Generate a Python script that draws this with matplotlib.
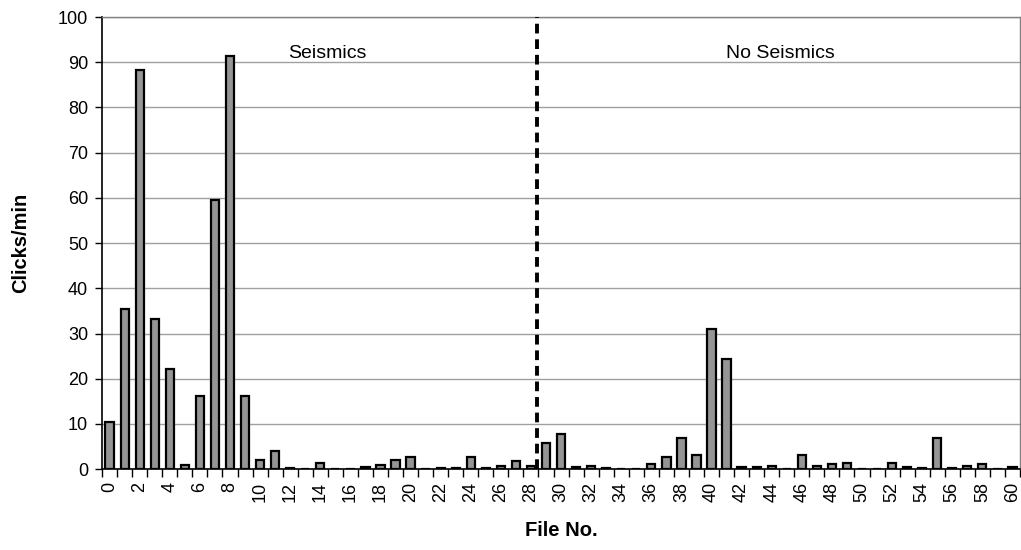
import matplotlib
matplotlib.use("Agg")
import matplotlib.pyplot as plt
import numpy as np

plt.rcParams["font.family"] = ["Liberation Sans", "DejaVu Sans"]

# clicks per minute for each file
file_no = list(range(61))
clicks = [
    10.5, 35.5, 88.3, 33.3, 22.2, 0.9, 16.2, 59.5, 91.3, 16.1,
    2.1, 4.1, 0.3, 0.0, 1.3, 0.0, 0.0, 0.5, 1.0, 2.1,
    2.6, 0.0, 0.2, 0.2, 2.6, 0.2, 0.6, 1.7, 0.6, 5.7,
    7.7, 0.4, 0.7, 0.3, 0.0, 0.0, 1.1, 2.7, 6.9, 3.2,
    31.1, 24.4, 0.4, 0.4, 0.6, 0.0, 3.1, 0.8, 1.2, 1.3,
    0.0, 0.0, 1.3, 0.5, 0.2, 7.0, 0.3, 0.8, 1.2, 0.0,
    0.5,
]
split_at = 28.4
regions = ["Seismics", "No Seismics"]
region_x = [14.5, 44.6]

fig = plt.figure(figsize=(10.21, 5.5), dpi=100)
ax = fig.add_axes([0.100, 0.147, 0.899, 0.822])

ax.bar(file_no, clicks, width=0.55, color="#959595", edgecolor="black",
       linewidth=1.6, zorder=3)

ax.set_xlim(-0.5, 60.5)
ax.set_ylim(0, 100)
ax.set_yticks(np.arange(0, 101, 10))
ax.yaxis.grid(True, color="#a0a0a0", linewidth=1.0, zorder=0)

# labels on every second file, tick marks between categories
ax.set_xticks(range(0, 61, 2))
ax.set_xticklabels([str(i) for i in range(0, 61, 2)], rotation=90)
ax.set_xticks(np.arange(-0.5, 61, 1), minor=True)
ax.tick_params(axis="x", which="major", length=0, labelsize=13, pad=9)
ax.tick_params(axis="x", which="minor", length=6, width=1.0, direction="out")
ax.tick_params(axis="y", length=5, width=1.0, labelsize=13, pad=5)

for side in ["top", "right"]:
    ax.spines[side].set_color("#808080")
    ax.spines[side].set_linewidth(1.0)
for side in ["left", "bottom"]:
    ax.spines[side].set_linewidth(1.2)

ax.axvline(split_at, color="black", linestyle=(0, (2.5, 1.5)), linewidth=2.8,
           zorder=4)
for name, x in zip(regions, region_x):
    ax.text(x, 92, name, ha="center", va="center", fontsize=14)

ax.set_ylabel("Clicks/min", fontsize=14.5, fontweight="bold", labelpad=20)
ax.set_xlabel("File No.", fontsize=14.5, fontweight="bold", labelpad=14)

fig.savefig("out.png", dpi=100)
